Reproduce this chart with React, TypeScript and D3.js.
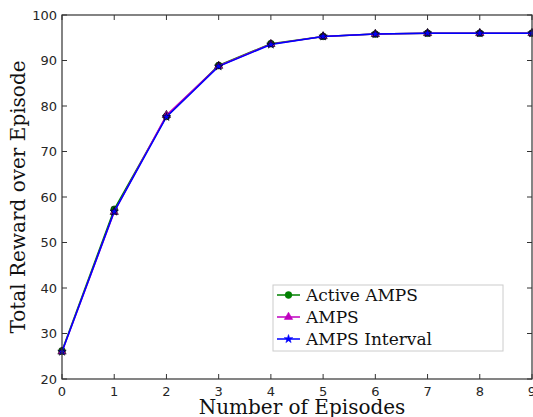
import React from "react";
import * as d3 from "d3";

const episodes = [0, 1, 2, 3, 4, 5, 6, 7, 8, 9];
const activeAmps = [26.2, 57.3, 77.7, 88.9, 93.7, 95.3, 95.8, 96.0, 96.0, 96.0];
const amps = [26.0, 56.7, 78.0, 88.8, 93.6, 95.3, 95.8, 96.0, 96.0, 96.0];
const ampsInterval = [26.0, 56.8, 77.6, 88.7, 93.5, 95.3, 95.8, 96.0, 96.0, 96.0];
const yTicks = [20, 30, 40, 50, 60, 70, 80, 90, 100];
const seriesNames = ["Active AMPS", "AMPS", "AMPS Interval"];

const W = 533, H = 417;
const L = 62, R = 532, T = 15, B = 379;

export default function App() {
  const x = d3.scaleLinear().domain([0, 9]).range([L, R]);
  const y = d3.scaleLinear().domain([20, 100]).range([B, T]);
  const line = d3.line<number>().x((_, i) => x(episodes[i])).y((d) => y(d));
  const series = [
    { name: seriesNames[0], data: activeAmps, color: "#008000", marker: "circle" },
    { name: seriesNames[1], data: amps, color: "#bf00bf", marker: "triangle" },
    { name: seriesNames[2], data: ampsInterval, color: "#0000ff", marker: "star" },
  ];
  const sym = (m: string) =>
    m === "circle"
      ? d3.symbol(d3.symbolCircle, 36)()
      : m === "triangle"
      ? d3.symbol(d3.symbolTriangle, 30)()
      : d3.symbol(d3.symbolStar, 22)();
  const tickFont = { fontFamily: "DejaVu Sans", fontSize: 13, fill: "#262626" };
  return (
    <svg width={W} height={H} style={{ position: "absolute", left: 0, top: 0 }}>
      <rect width={W} height={H} fill="#fff" />
      {episodes.map((e) => (
        <g key={"xt" + e}>
          <line x1={x(e)} x2={x(e)} y1={B} y2={B - 5} stroke="#333" />
          <line x1={x(e)} x2={x(e)} y1={T} y2={T + 5} stroke="#333" />
          <text x={x(e)} y={396} textAnchor="middle" {...tickFont}>{e}</text>
        </g>
      ))}
      {yTicks.map((v) => (
        <g key={"yt" + v}>
          <line x1={L} x2={L + 5} y1={y(v)} y2={y(v)} stroke="#333" />
          <line x1={R} x2={R - 5} y1={y(v)} y2={y(v)} stroke="#333" />
          <text x={57} y={y(v) + 4.5} textAnchor="end" {...tickFont}>{v}</text>
        </g>
      ))}
      {series.map((s) => (
        <g key={s.name}>
          <path d={line(s.data) || ""} fill="none" stroke={s.color} strokeWidth={1.5} />
          {s.data.map((v, i) => (
            <path
              key={i}
              d={sym(s.marker) || ""}
              transform={`translate(${x(episodes[i])},${y(v)})`}
              fill={s.color}
              stroke="#000"
              strokeWidth={0.6}
            />
          ))}
        </g>
      ))}
      <rect x={L} y={T} width={R - L} height={B - T} fill="none" stroke="#333" strokeWidth={1.2} />
      <text
        transform={`translate(25,${(T + B) / 2}) rotate(-90)`}
        textAnchor="middle"
        fontFamily="DejaVu Serif"
        fontSize={20}
        fill="#111"
      >
        Total Reward over Episode
      </text>
      <text x={302} y={414} textAnchor="middle" fontFamily="DejaVu Serif" fontSize={20} fill="#111">
        Number of Episodes
      </text>
      <g>
        <rect x={273} y={285} width={230} height={66} fill="#fff" stroke="#ccc" strokeWidth={1} />
        {series.map((s, i) => {
          const cy = 295 + i * 22;
          return (
            <g key={"lg" + s.name}>
              <line x1={277} x2={300} y1={cy} y2={cy} stroke={s.color} strokeWidth={1.5} />
              <path d={sym(s.marker) || ""} transform={`translate(288.5,${cy})`} fill={s.color} stroke={s.color} strokeWidth={0.6} />
              <text x={306} y={cy + 6} fontFamily="DejaVu Serif" fontSize={17} fill="#111">{s.name}</text>
            </g>
          );
        })}
      </g>
    </svg>
  );
}
